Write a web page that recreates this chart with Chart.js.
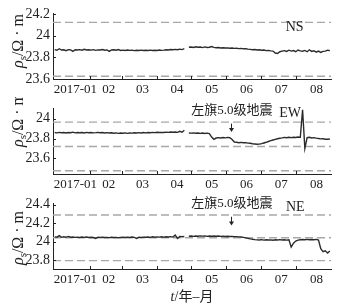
<!DOCTYPE html>
<html><head><meta charset="utf-8">
<script src="https://cdn.jsdelivr.net/npm/chart.js@4/dist/chart.umd.min.js"></script>
<style>
html,body{margin:0;padding:0;background:#fff;}
#wrap{position:relative;width:338px;height:306px;overflow:hidden;}
canvas{position:absolute;left:0;}
</style></head><body>
<div id="wrap">
<canvas id="c1" width="338" height="97" style="top:0"></canvas>
<canvas id="c2" width="338" height="95" style="top:97px"></canvas>
<canvas id="c3" width="338" height="114" style="top:192px"></canvas>
</div>
<script>
// ---- data ----
const monthLabels = ['2017-01','02','03','04','05','06','07','08'];
const monthStartDays = [0,31,59,90,120,151,181,212,243];
const sampleStep = 2; // days between samples, starting 2017-01-01
const quakeDay = 155;
const quakeLabel = '左旗5.0级地震';
const componentNames = ['NS','EW','NE'];

const nsValues = [
23.872,23.866,23.880,23.868,23.870,23.862,23.871,23.869,23.856,23.870,
23.868,23.871,23.866,23.874,23.868,23.870,23.867,23.871,23.865,23.869,
23.868,23.872,23.866,23.869,23.855,23.868,23.870,23.866,23.872,23.864,
23.867,23.863,23.868,23.865,23.867,23.862,23.866,23.864,23.867,23.863,
23.866,23.864,23.867,23.863,23.866,23.864,23.868,23.865,23.867,23.870,
23.868,23.873,23.870,23.874,23.871,23.876,23.872,23.880,null,23.894,
23.896,23.892,23.898,23.893,23.895,23.890,23.897,23.891,23.894,23.900,
23.892,23.889,23.891,23.887,23.889,23.886,23.888,23.884,23.886,23.883,
23.884,23.881,23.883,23.879,23.880,23.876,23.874,23.871,23.873,23.868,
23.870,23.866,23.868,23.862,23.864,23.860,23.858,23.840,23.836,23.852,
23.858,23.862,23.855,23.866,23.858,23.863,23.852,23.868,23.860,23.857,
23.864,23.852,23.870,23.855,23.861,23.848,23.858,23.846,23.855,23.858,
23.866,23.862];

const ewValues = [
23.860,23.857,23.862,23.858,23.861,23.856,23.860,23.858,23.864,23.857,
23.860,23.858,23.861,23.856,23.862,23.858,23.860,23.857,23.859,23.862,
23.858,23.860,23.856,23.859,23.855,23.858,23.853,23.857,23.852,23.856,
23.853,23.857,23.852,23.856,23.854,23.858,23.855,23.859,23.856,23.860,
23.857,23.861,23.858,23.862,23.859,23.863,23.860,23.862,23.861,23.864,
23.862,23.865,23.863,23.866,23.862,23.872,23.864,23.884,null,23.856,
23.854,23.857,23.853,23.856,23.852,23.855,23.851,23.854,23.850,23.815,
23.792,23.805,23.809,23.806,23.810,23.807,23.811,23.808,23.790,23.765,
23.762,23.758,23.761,23.757,23.759,23.754,23.752,23.748,23.745,23.742,
23.744,23.748,23.755,23.762,23.770,23.778,23.785,23.792,23.798,23.803,
23.806,23.811,23.808,23.812,23.809,23.813,23.810,23.815,23.812,24.090,
23.700,23.808,23.812,23.806,23.809,23.804,23.800,23.796,23.798,23.793,
23.792,23.795];

const neValues = [
24.053,24.050,24.066,24.048,24.054,24.051,24.058,24.049,24.052,24.048,
24.050,24.047,24.051,24.048,24.052,24.047,24.049,24.046,24.036,24.049,
24.047,24.050,24.046,24.048,24.045,24.049,24.046,24.048,24.045,24.047,
24.049,24.046,24.050,24.047,24.051,24.048,24.036,24.050,24.047,24.051,
24.049,24.052,24.048,24.054,24.050,24.053,24.051,24.055,24.051,24.054,
24.052,24.056,24.051,24.072,24.036,24.058,24.054,24.057,null,24.060,
24.062,24.059,24.063,24.060,24.064,24.061,24.063,24.059,24.062,24.060,
24.063,24.060,24.062,24.059,24.061,24.058,24.060,24.057,24.059,24.056,
24.056,24.053,24.052,24.048,24.043,24.037,24.031,24.027,24.023,24.021,
24.020,24.023,24.018,24.022,24.019,24.021,24.017,24.022,24.019,24.023,
24.020,24.022,24.018,24.021,23.943,23.985,24.008,24.018,24.022,24.025,
24.023,24.026,24.022,24.025,24.023,24.026,24.020,23.925,23.893,23.903,
23.878,23.900];

const nsLimits = [24.123, 23.625];
const ewLimits = [23.965, 23.72, 23.475];
const neLimits = [24.289, 24.043, 23.797];

const nsTicks = [23.6, 23.8, 24, 24.2];
const ewTicks = [23.6, 23.8, 24];
const neTicks = [23.8, 24, 24.2, 24.4];

// ---- chart setup ----
const X_MIN = -1.5, X_MAX = 243;
const monthMid = monthStartDays.slice(0,-1).map((d,i)=>(d+monthStartDays[i+1])/2);
const FONT = {family:'"Liberation Serif", "Times New Roman", serif', size:13};
const INK = '#222';

const inwardTicks = {
  id:'inwardTicks',
  afterDraw(chart){
    const {ctx, chartArea:a, scales:{x,y}} = chart;
    ctx.save(); ctx.strokeStyle=INK; ctx.lineWidth=1; ctx.beginPath();
    monthStartDays.slice(1,-1).forEach(d=>{
      const px=Math.round(x.getPixelForValue(d))+0.5;
      ctx.moveTo(px,a.bottom); ctx.lineTo(px,a.bottom-3);
    });
    y.ticks.forEach(t=>{
      const py=Math.round(y.getPixelForValue(t.value))+0.5;
      ctx.moveTo(a.left,py); ctx.lineTo(a.left+3,py);
    });
    ctx.stroke(); ctx.restore();
  }
};

const panelText = {
  id:'panelText',
  afterDraw(chart, args, o){
    const {ctx, chartArea:a, scales:{x,y}} = chart;
    ctx.save();
    ctx.fillStyle=INK; ctx.strokeStyle=INK;
    ctx.textAlign='center'; ctx.textBaseline='middle';
    ctx.font='14px "Liberation Serif"';
    ctx.fillText(o.name, x.getPixelForValue(o.nameAt[0]), y.getPixelForValue(o.nameAt[1]));
    if (o.quake){
      const qx = x.getPixelForValue(quakeDay);
      ctx.font='13px "Liberation Serif", "Noto Sans CJK SC"';
      ctx.fillText(quakeLabel, qx+1, y.getPixelForValue(o.quake.textAt));
      const y0 = y.getPixelForValue(o.quake.arrow[0]);
      const y1 = y.getPixelForValue(o.quake.arrow[1]);
      const ax = Math.round(qx)+0.5;
      ctx.lineWidth=1;
      ctx.beginPath(); ctx.moveTo(ax,y0); ctx.lineTo(ax,y1-3); ctx.stroke();
      ctx.beginPath(); ctx.moveTo(ax-2.5,y1-4); ctx.lineTo(ax+2.5,y1-4); ctx.lineTo(ax,y1); ctx.closePath(); ctx.fill();
    }
    // y title: rho_s / Ω · m (rotated)
    ctx.translate(o.titleX, o.titleY);
    ctx.rotate(-Math.PI/2);
    ctx.textAlign='left';
    const f1='italic 16px "Liberation Serif"', f2='11px "Liberation Serif"', f3='16px "Liberation Serif"';
    ctx.font=f1; const w1=ctx.measureText('ρ').width;
    ctx.font=f2; const w2=ctx.measureText('s').width;
    ctx.font=f3; const w3=ctx.measureText('/Ω · m').width;
    let sx=-(w1+w2+w3)/2;
    ctx.font=f1; ctx.fillText('ρ',sx,0); sx+=w1;
    ctx.font=f2; ctx.fillText('s',sx,4); sx+=w2;
    ctx.font=f3; ctx.fillText('/Ω · m',sx,0);
    ctx.restore();
    if (o.xTitle){
      ctx.save(); ctx.fillStyle=INK; ctx.textBaseline='middle'; ctx.textAlign='left';
      const g1='italic 14px "Liberation Serif"', g2='14px "Liberation Serif", "Noto Sans CJK SC"';
      ctx.font=g1; const t1=ctx.measureText('t').width;
      ctx.font=g2; const t2=ctx.measureText('/年–月').width;
      let sx=(a.left+a.right)/2-(t1+t2)/2; const sy=chart.height-9;
      ctx.font=g1; ctx.fillText('t',sx,sy);
      ctx.font=g2; ctx.fillText('/年–月',sx+t1,sy);
      ctx.restore();
    }
  }
};

function makeChart(id, values, limits, yMin, yMax, yTicks, padTop, xAxisHeight, textOpts){
  return new Chart(document.getElementById(id), {
    type:'line',
    data:{datasets:[
      {data:values.map((v,i)=>({x:i*sampleStep,y:v})), borderColor:'#2b2b2b', borderWidth:1.4,
       pointRadius:0, tension:0, spanGaps:false},
      ...limits.map(v=>({data:[{x:X_MIN,y:v},{x:X_MAX,y:v}], borderColor:'#a8a8a8',
       borderWidth:1.4, borderDash:[8,4], pointRadius:0}))
    ]},
    options:{
      responsive:false, animation:false, devicePixelRatio:1,
      layout:{padding:{top:padTop,right:7,left:0,bottom:0}},
      plugins:{legend:{display:false}, tooltip:{enabled:false}, panelText:textOpts},
      scales:{
        x:{type:'linear', min:X_MIN, max:X_MAX,
           afterBuildTicks:ax=>{ax.ticks=monthMid.map(v=>({value:v}));},
           afterFit:s=>{s.height=xAxisHeight;},
           grid:{display:false, drawTicks:false},
           border:{display:true, color:INK, width:1},
           ticks:{autoSkip:false, maxRotation:0, padding:3, labelOffset:3, font:FONT, color:INK,
                  callback:(v,i)=>monthLabels[i]}},
        y:{type:'linear', min:yMin, max:yMax,
           afterBuildTicks:ax=>{ax.ticks=yTicks.map(v=>({value:v}));},
           afterFit:s=>{s.width=53;},
           grid:{display:false, drawTicks:false},
           border:{display:true, color:INK, width:1},
           ticks:{padding:3, font:{family:FONT.family, size:14}, color:INK, callback:v=>String(v)}}
      }
    },
    plugins:[inwardTicks, panelText]
  });
}

makeChart('c1', nsValues, nsLimits, 23.6, 24.21, nsTicks, 13, 18,
  {name:componentNames[0], nameAt:[211,24.076], titleX:19, titleY:41});
makeChart('c2', ewValues, ewLimits, 23.443, 24.103, ewTicks, 11, 18,
  {name:componentNames[1], nameAt:[207,24.056], titleX:19, titleY:23,
   quake:{textAt:24.086, arrow:[23.95,23.866]}});
makeChart('c3', neValues, neLimits, 23.707, 24.414, neTicks, 11, 37,
  {name:componentNames[2], nameAt:[211.6,24.368], titleX:19, titleY:46, xTitle:true,
   quake:{textAt:24.414, arrow:[24.27,24.175]}});
</script>
</body></html>
